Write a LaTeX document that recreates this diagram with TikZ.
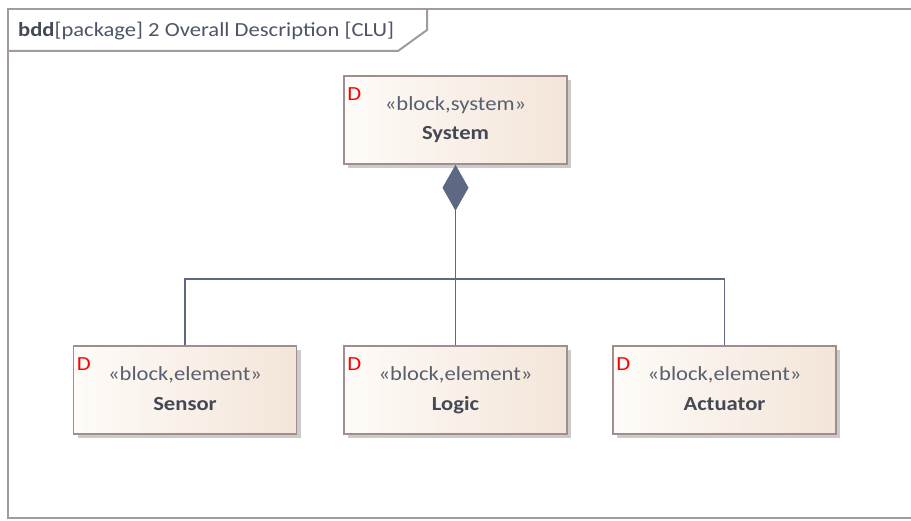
\documentclass[tikz,border=0pt]{standalone}
\usepackage{fontspec}
\setmainfont{Carlito}[FakeStretch=1.13]
\usetikzlibrary{arrows.meta,shadows}

\definecolor{framec}{HTML}{A29A9B}
\definecolor{boxc}{HTML}{A08E8E}
\definecolor{fillL}{HTML}{FEFBF8}
\definecolor{fillR}{HTML}{F3E5D8}
\definecolor{connc}{HTML}{5E6882}
\definecolor{stereoc}{HTML}{56606F}
\definecolor{namec}{HTML}{434955}
\definecolor{titlec}{HTML}{4E5566}
\definecolor{shadowc}{HTML}{CCCACA}

\tikzset{
  frameline/.style={draw=framec, line width=2pt},
  block/.style={draw=boxc, line width=1.5pt, left color=fillL, right color=fillR,
    minimum width=223pt, minimum height=88pt, align=center, inner sep=0pt,
    font=\fontsize{20}{29}\selectfont,
    drop shadow={shadow xshift=4pt, shadow yshift=-4pt, fill=shadowc, opacity=1},
    label={[anchor=north west, inner sep=0pt, xshift=4pt, yshift=-12pt,
            text=red, font=\fontsize{20}{20}\selectfont]north west:D}},
  conn/.style={draw=connc, line width=1.8pt},
}

% fixed line strut so every block sets its two lines at the same heights
\newcommand{\bstrut}{\rule[-9pt]{0pt}{29pt}}
\newcommand{\blocktext}[2]{{\color{stereoc}«#1»}\bstrut\\{\color{namec}\bfseries #2}\bstrut}

\begin{document}
\begin{tikzpicture}[x=1pt, y=-1pt]
\useasboundingbox (0,0) rectangle (911,521);
\fill[white] (0,0) rectangle (911,521);

% diagram frame and its name tab
\draw[frameline] (916,9) -- (8,9) -- (8,518) -- (916,518);
\draw[frameline] (8,51) -- (398,51) -- (427,30) -- (427,9);
\node[anchor=base west, inner sep=0pt, text=titlec, font=\fontsize{20}{20}\selectfont]
  (title) at (18,37) {{\color{namec}\bfseries bdd}[package] 2 Overall Description [CLU]};

% blocks
\node[block] (system)   at (455.5,120) {\blocktext{block,system}{System}};
\node[block] (sensor)   at (185,390)   {\blocktext{block,element}{Sensor}};
\node[block] (logic)    at (455.5,390) {\blocktext{block,element}{Logic}};
\node[block] (actuator) at (724.5,390) {\blocktext{block,element}{Actuator}};

% composition tree
\coordinate (bus) at (455.5,279);
\draw[conn, {Diamond[length=46pt, width=26pt, fill=connc]}-] (system.south) -- (logic.north);
\draw[conn] (sensor.north) |- (bus) -| (actuator.north);
\end{tikzpicture}
\end{document}
